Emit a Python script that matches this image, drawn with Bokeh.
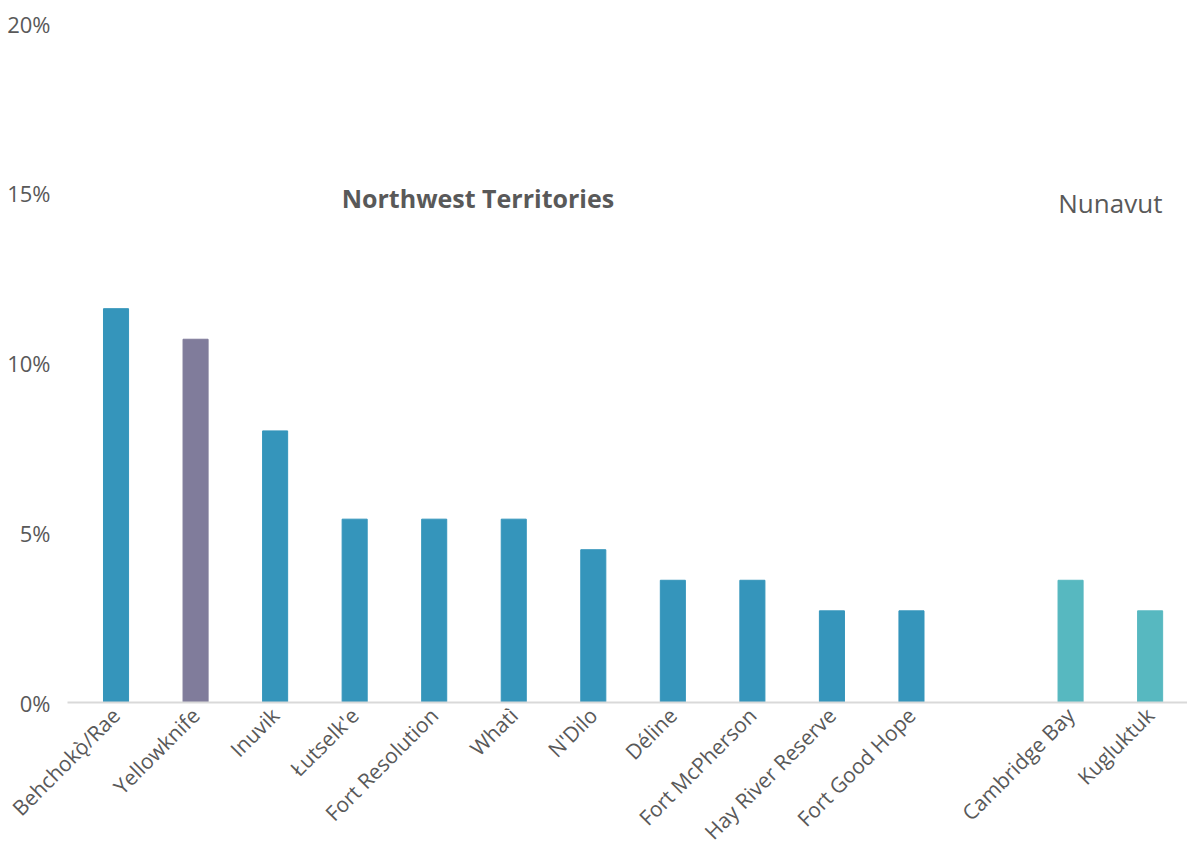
import math
from bokeh.plotting import figure
from bokeh.models import ColumnDataSource, FixedTicker, PrintfTickFormatter, Label, Range1d
from bokeh.embed import file_html
from bokeh.resources import INLINE

communities = ["Behchokǫ̀/Rae", "Yellowknife", "Inuvik", "Łutselk'e", "Fort Resolution",
               "Whatì", "N'Dilo", "Déline", "Fort McPherson", "Hay River Reserve",
               "Fort Good Hope", "Cambridge Bay", "Kugluktuk"]
positions = [0, 1, 2, 3, 4, 5, 6, 7, 8, 9, 10, 12, 13]
values = [11.6, 10.7, 8.0, 5.4, 5.4, 5.4, 4.5, 3.6, 3.6, 2.7, 2.7, 3.6, 2.7]
territory = ["NWT", "YK", "NWT", "NWT", "NWT", "NWT", "NWT", "NWT", "NWT", "NWT", "NWT", "NU", "NU"]
colour_map = {"NWT": "#3595bb", "YK": "#807c9b", "NU": "#57b8c0"}
y_ticks = [0, 5, 10, 15, 20]
group_labels = ["Northwest Territories", "Nunavut"]
group_x = [4.55, 12.5]
group_y = [14.85, 14.7]
group_style = ["bold", "normal"]
group_size = ["25px", "26px"]

src = ColumnDataSource(dict(x=positions, top=values,
                            color=[colour_map[t] for t in territory]))

p = figure(width=1187, height=858, output_backend="svg", toolbar_location=None,
           x_range=Range1d(-0.61, 13.47), y_range=Range1d(0, 20),
           min_border_left=67, min_border_right=0, min_border_top=23, min_border_bottom=150)
p.vbar(x="x", top="top", width=0.315, color="color", source=src)

p.outline_line_color = None
p.grid.grid_line_color = None
p.background_fill_color = "white"

p.yaxis.ticker = FixedTicker(ticks=y_ticks)
p.yaxis.formatter = PrintfTickFormatter(format="%d%%")
p.yaxis.axis_line_color = None
p.yaxis.major_tick_line_color = None
p.yaxis.minor_tick_line_color = None
p.yaxis.major_label_standoff = 11
p.yaxis.major_label_text_font = "Open Sans"
p.yaxis.major_label_text_font_size = "22px"
p.yaxis.major_label_text_color = "#595959"

p.xaxis.ticker = FixedTicker(ticks=positions)
p.xaxis.major_label_overrides = {pos: name for pos, name in zip(positions, communities)}
p.xaxis.major_label_orientation = math.pi / 4
p.xaxis.axis_line_color = "#d9d9d9"
p.xaxis.axis_line_width = 2
p.xaxis.major_tick_line_color = None
p.xaxis.minor_tick_line_color = None
p.xaxis.major_label_standoff = 3
p.xaxis.major_label_text_font = "Open Sans"
p.xaxis.major_label_text_font_size = "21px"
p.xaxis.major_label_text_color = "#595959"

for t, gx, gy, fs, sz in zip(group_labels, group_x, group_y, group_style, group_size):
    p.add_layout(Label(x=gx, y=gy, text=t, text_align="center", text_baseline="middle",
                       text_font="Open Sans", text_font_size=sz, text_font_style=fs,
                       text_color="#595959"))

open("out.html", "w").write(file_html(p, INLINE))
